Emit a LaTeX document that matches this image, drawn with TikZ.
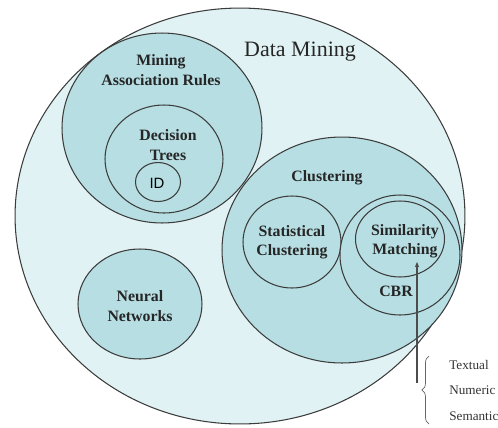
\documentclass[tikz,border=0pt]{standalone}
\usepackage{fontspec}
\setmainfont{Liberation Serif}
\newfontfamily\idfont{Liberation Sans}
\usetikzlibrary{shapes.geometric,decorations.pathreplacing,arrows.meta}

\definecolor{outerFill}{HTML}{E0F2F3}
\definecolor{innerFill}{HTML}{B7DFE3}
\definecolor{lineGray}{HTML}{3C3C3C}

\begin{document}
\begin{tikzpicture}
[x=0.02cm,y=-0.02cm,
 setDecorate/.style={shape=ellipse,draw=lineGray,line width=0.6pt,fill=innerFill,inner sep=0pt},%
 labelDecorate/.style={font=\bfseries\fontsize{9}{11}\selectfont,align=center,text=black!85},%
 itemDecorate/.style={anchor=west,inner sep=0pt,font=\fontsize{7.5}{9}\selectfont,text=black!80},%
 lineDecorate/.style={-{Stealth[length=3pt,width=2.5pt]},line width=0.6pt,draw=black!70}]
\useasboundingbox (0,0) rectangle (498,427);
%% sets or ellipses
\node (dm) at (240,216) [setDecorate,fill=outerFill,minimum width=9cm,minimum height=8.32cm] {};
\foreach \nodename/\x/\y/\w/\h in {mar/162/128/4/3.8, dt/164/159/2.36/2.16, id/158/182/0.9/0.78,
  nn/140/304/2.48/2.2, cl/342/250/4.8/4.52, sc/292/242/1.96/1.84,
  cbr/400/255/2.4/2.4, sm/400/239/1.78/1.52}
{
  \node (\nodename) at (\x,\y) [setDecorate,minimum width=\w cm,minimum height=\h cm] {};
}
%% labels
\node (dmText) at (300,52) [font=\fontsize{12.5}{15}\selectfont,text=black!85] {Data Mining};
\node (marText) at (161,70) [labelDecorate] {Mining\\Association Rules};
\node (dtText) at (168,145) [labelDecorate] {Decision\\Trees};
\node (idText) at (157,183) [font=\idfont\fontsize{8.5}{10}\selectfont] {ID};
\node (clText) at (327,178) [labelDecorate] {Clustering};
\node (scText) at (292,242) [labelDecorate] {Statistical\\Clustering};
\node (smText) at (405,241) [labelDecorate] {Similarity\\Matching};
\node (cbrText) at (396,291) [labelDecorate] {CBR};
\node (nnText) at (140,306) [labelDecorate] {Neural\\Networks};
%% kinds of matching
\foreach \nodename/\y/\kind in {txt/365/Textual, num/390/Numeric, sem/416/Semantic}
{
  \node (\nodename) at (449,\y) [itemDecorate] {\kind};
}
\draw[black!60,decorate,decoration={brace,amplitude=4pt}] (429,424) -- (429,356);
%% arrow
\coordinate (arrowFoot) at (417,383);
\coordinate (arrowTip) at (417,262);
\draw[lineDecorate] (arrowFoot) -- (arrowTip);
\end{tikzpicture}
\end{document}
